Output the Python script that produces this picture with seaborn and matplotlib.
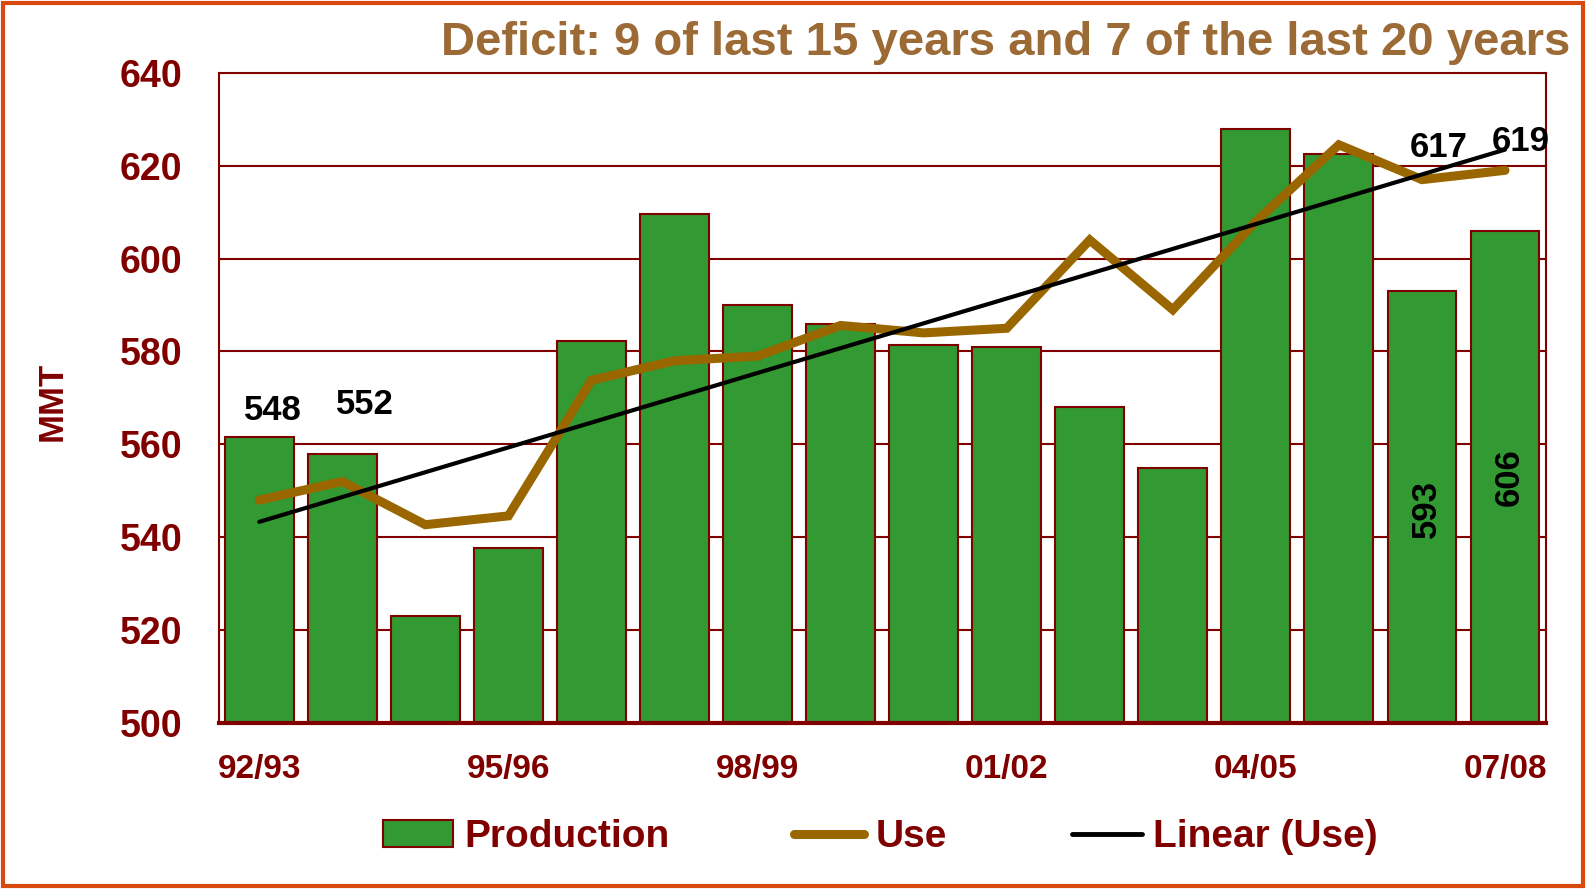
import numpy as np
import matplotlib
matplotlib.use("Agg")
import matplotlib.pyplot as plt
from matplotlib.patches import Patch, Rectangle
from matplotlib.lines import Line2D
import seaborn as sns

years = ['92/93', '93/94', '94/95', '95/96', '96/97', '97/98', '98/99', '99/00',
         '00/01', '01/02', '02/03', '03/04', '04/05', '05/06', '06/07', '07/08']
production = [561.6, 558, 523, 537.7, 582.3, 609.7, 590, 586,
              581.4, 581, 568, 555, 628, 622.6, 593, 606]
use = [548, 552, 542.7, 544.6, 573.8, 578, 579, 585.6,
       584, 585, 604, 589, 608, 624.5, 617, 619]
xtick_labels = ['92/93', '95/96', '98/99', '01/02', '04/05', '07/08']

dark_red = '#800000'
green = '#339933'
brown = '#996600'

sns.set_style('white')
plt.rcParams['font.family'] = ['Liberation Sans', 'DejaVu Sans']
plt.rcParams['font.weight'] = 'bold'

fig = plt.figure(figsize=(15.86, 8.89), dpi=100)
ax = fig.add_axes([0.1378, 0.1867, 0.8368, 0.7314])

pos = np.arange(len(years))
sns.barplot(x=years, y=production, color=green, saturation=1, width=0.83,
            edgecolor=dark_red, linewidth=1.5, ax=ax, zorder=2)
sns.lineplot(x=pos, y=use, color=brown, linewidth=6.5, ax=ax, zorder=3,
             solid_capstyle='round', solid_joinstyle='miter')

# linear trend of use
slope, intercept = np.polyfit(pos, use, 1)
sns.lineplot(x=pos, y=slope * pos + intercept, color='black', linewidth=3,
             ax=ax, zorder=4, solid_capstyle='round')

ax.set_ylim(500, 640)
ax.set_xlim(-0.49, len(years) - 0.51)
ax.set_yticks(range(500, 641, 20))
ax.set_xticks(pos[::3])
ax.set_xticklabels(xtick_labels)
ax.yaxis.grid(True, color=dark_red, linewidth=1.5, zorder=0)
ax.set_axisbelow(True)
for side, sp in ax.spines.items():
    sp.set_visible(True)
    sp.set_color(dark_red)
    sp.set_linewidth(1.5)
ax.spines['bottom'].set_linewidth(3)
ax.tick_params(axis='y', length=0, pad=26, labelsize=27, labelcolor=dark_red)
ax.tick_params(axis='x', length=0, pad=22, labelsize=24, labelcolor=dark_red)
for lab in ax.get_xticklabels() + ax.get_yticklabels():
    lab.set_fontweight('bold')
ax.set_xlabel('')
ax.set_ylabel('')

# value labels
lab_kw = dict(fontsize=25, fontweight='bold', color='black', ha='center', va='center', zorder=5)
ax.text(0.17, 567.3, f'{use[0]:.0f}', **lab_kw)
ax.text(1.27, 568.6, f'{use[1]:.0f}', **lab_kw)
ax.text(14.2, 624.0, f'{use[14]:.0f}', **lab_kw)
ax.text(15.19, 625.2, f'{use[15]:.0f}', **lab_kw)
ax.text(14.06, 546, f'{production[14]:.0f}', rotation=90, **lab_kw)
ax.text(15.05, 553, f'{production[15]:.0f}', rotation=90, **lab_kw)

fig.text(0.033, 0.548, 'MMT', rotation=90, fontsize=25, fontweight='bold',
         color=dark_red, ha='center', va='center')
fig.text(0.99, 0.952, 'Deficit: 9 of last 15 years and 7 of the last 20 years',
         fontsize=34, fontweight='bold', color='#9C6A35', ha='right', va='center')

handles = [
    Patch(facecolor=green, edgecolor=dark_red, linewidth=1.5),
    Line2D([], [], color=brown, linewidth=6.5, solid_capstyle='round'),
    Line2D([], [], color='black', linewidth=3.5, solid_capstyle='round'),
]
leg = fig.legend(handles, ['Production', 'Use', 'Linear (Use)'], loc='center',
                 bbox_to_anchor=(0.555, 0.058), ncol=3, frameon=False,
                 fontsize=28, handlelength=1.8, handletextpad=0.3,
                 columnspacing=3.2)
for t in leg.get_texts():
    t.set_color(dark_red)
    t.set_fontweight('bold')

# outer border
fig.patches.append(Rectangle((0.002, 0.003), 0.996, 0.994, transform=fig.transFigure,
                             fill=False, edgecolor='#D9480F', linewidth=3))

fig.savefig('out.png', dpi=100)
